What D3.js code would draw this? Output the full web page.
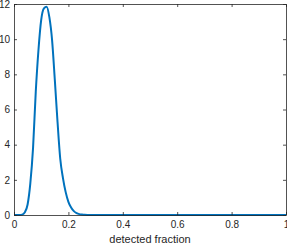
<!DOCTYPE html>
<html>
<head>
<meta charset="utf-8">
<script src="https://cdn.jsdelivr.net/npm/d3@7"></script>
<style>
  body { margin: 0; background: #fff; }
  text { font-family: "Liberation Sans", Arial, sans-serif; }
</style>
</head>
<body>
<script>
// curve
var xs = [0, 0.01, 0.02, 0.03, 0.04, 0.05, 0.06, 0.07, 0.08, 0.09, 0.10, 0.11, 0.12, 0.13, 0.14, 0.15,
          0.16, 0.17, 0.18, 0.19, 0.20, 0.21, 0.22, 0.23, 0.24, 0.25, 0.26, 0.28, 0.30, 1.0];
var ys = [0, 0, 0, 0.02, 0.15, 0.6, 1.8, 3.8, 7.0, 9.4, 11.1, 11.75, 11.85, 11.25, 9.95, 7.7,
          5.3, 3.2, 2.1, 1.3, 0.75, 0.42, 0.22, 0.11, 0.05, 0.025, 0.01, 0, 0, 0];
var xTicks = [0, 0.2, 0.4, 0.6, 0.8, 1];
var yTicks = [0, 2, 4, 6, 8, 10, 12];
var xLabel = "detected fraction";

var W = 287, H = 245;
var m = {left: 14, right: 1, top: 4, bottom: 30};
var axisColor = "#262626";

var svg = d3.select("body").append("svg").attr("width", W).attr("height", H);

var x = d3.scaleLinear().domain([0, 1]).range([m.left, W - m.right]);
var y = d3.scaleLinear().domain([0, 12]).range([H - m.bottom, m.top]);

var pts = xs.map(function(d, i) { return [d, ys[i]]; });

var line = d3.line()
    .x(function(d) { return x(d[0]); })
    .y(function(d) { return y(d[1]); })
    .curve(d3.curveMonotoneX);

svg.append("path")
    .datum(pts)
    .attr("fill", "none")
    .attr("stroke", "#0072BD")
    .attr("stroke-width", 2)
    .attr("d", line);

// axes, ticks pointing inward, box on
var tl = 3;
svg.append("g").attr("transform", "translate(0," + y(0) + ")")
    .call(d3.axisBottom(x).tickValues(xTicks).tickSizeInner(-tl).tickSizeOuter(0).tickPadding(6)
      .tickFormat(function(d) { return d === 0 || d === 1 ? d3.format("d")(d) : d3.format(".1f")(d); }));
svg.append("g").attr("transform", "translate(0," + y(12) + ")")
    .call(d3.axisTop(x).tickValues(xTicks).tickSizeInner(-tl).tickSizeOuter(0).tickFormat(""));
svg.append("g").attr("transform", "translate(" + x(0) + ",0)")
    .call(d3.axisLeft(y).tickValues(yTicks).tickSizeInner(-tl).tickSizeOuter(0).tickPadding(4));
svg.append("g").attr("transform", "translate(" + x(1) + ",0)")
    .call(d3.axisRight(y).tickValues(yTicks).tickSizeInner(-tl).tickSizeOuter(0).tickFormat(""));

svg.selectAll(".domain").attr("stroke", axisColor).attr("stroke-width", 0.8);
svg.selectAll(".tick line").attr("stroke", axisColor).attr("stroke-width", 0.8);
svg.selectAll(".tick text").attr("fill", axisColor).style("font-size", "10px")
    .style("font-family", "'Liberation Sans', Arial, sans-serif");

svg.append("text")
    .attr("x", (x(0) + x(1)) / 2)
    .attr("y", H - 2)
    .attr("text-anchor", "middle")
    .attr("fill", axisColor)
    .style("font-size", "11px")
    .text(xLabel);
</script>
</body>
</html>
